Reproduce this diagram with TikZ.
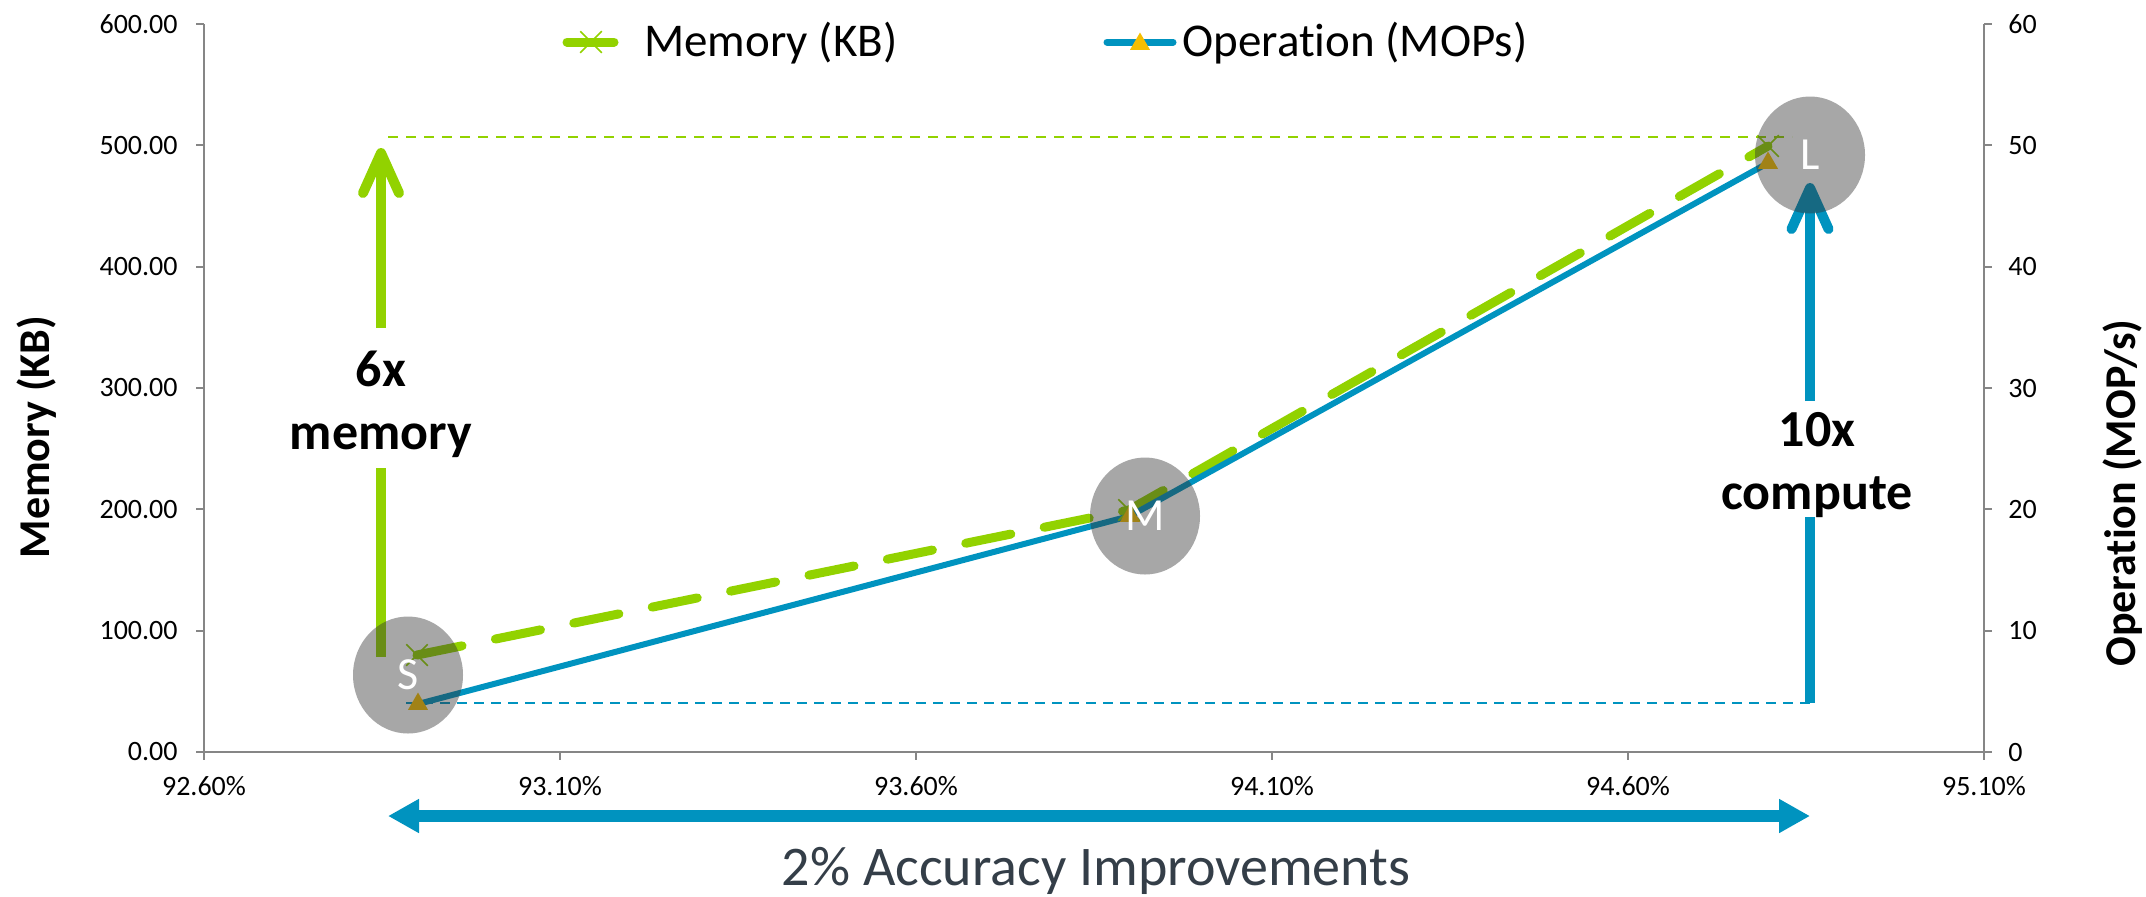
\documentclass[tikz,border=0pt]{standalone}
\usepackage{fontspec}
\setmainfont{Carlito}[Ligatures={NoCommon}]
\usetikzlibrary{arrows.meta,shapes.geometric,shapes.misc}
\definecolor{lime}{RGB}{146,210,0}
\definecolor{ocean}{RGB}{0,147,191}
\definecolor{axisgray}{RGB}{134,134,134}
\definecolor{gold}{RGB}{245,190,0}
\definecolor{slate}{RGB}{52,62,72}
\definecolor{bubble}{RGB}{51,51,51}
\begin{document}
\begin{tikzpicture}[x=0.5pt,y=-0.5pt,
  axis/.style={draw=axisgray, line width=1pt},
  ticklab/.style={font=\fontsize{14}{16}\selectfont, inner sep=0pt},
  axtitle/.style={font=\fontsize{22}{26}\selectfont\bfseries, rotate=90, inner sep=0pt},
  legtext/.style={font=\fontsize{23.5}{28}\selectfont, inner sep=0pt, anchor=base west},
  memline/.style={draw=lime, line width=4.5pt, dash pattern=on 23pt off 17pt, line cap=round},
  opline/.style={draw=ocean, line width=3pt},
  memmark/.style={cross out, draw=lime, line width=0.75pt, minimum size=10pt, inner sep=0pt},
  opmark/.style={regular polygon, regular polygon sides=3, fill=gold, minimum size=11.5pt, inner sep=0pt},
  bubblenode/.style={ellipse, fill=bubble, fill opacity=0.43, text opacity=1, text=white,
    minimum width=55pt, minimum height=58.5pt, inner sep=0pt, font=\fontsize{23}{27}\selectfont},
  biglab/.style={font=\fontsize{26}{31.5}\selectfont\bfseries, align=center, inner sep=0pt},
  greenguide/.style={draw=lime, line width=1.25pt, dash pattern=on 5pt off 4pt},
  blueguide/.style={draw=ocean, line width=1.25pt, dash pattern=on 5pt off 3.5pt},
  garrow/.style={draw=lime, line width=5pt},
  barrow/.style={draw=ocean, line width=5pt},
  spanarrow/.style={draw=ocean, line width=6pt, {Triangle[length=15.5pt,width=16pt]}-{Triangle[length=15.5pt,width=16pt]}}
]
\useasboundingbox (0,0) rectangle (2146,896);

% axes
\draw[axis] (204,24) -- (204,752) -- (1984,752) -- (1984,24);
\foreach \i/\lab in {0/0.00,1/100.00,2/200.00,3/300.00,4/400.00,5/500.00,6/600.00} {
  \pgfmathsetmacro\yy{752-121.3333*\i}
  \draw[axis] (196,\yy) -- (204,\yy);
  \node[ticklab, anchor=east] (yl\i) at (178,\yy) {\lab};
}
\foreach \i/\lab in {0/0,1/10,2/20,3/30,4/40,5/50,6/60} {
  \pgfmathsetmacro\yy{752-121.3333*\i}
  \draw[axis] (1984,\yy) -- (1992,\yy);
  \node[ticklab, anchor=west] (yr\i) at (2008,\yy) {\lab};
}
\foreach \i/\lab in {0/92.60\%,1/93.10\%,2/93.60\%,3/94.10\%,4/94.60\%,5/95.10\%} {
  \pgfmathsetmacro\xx{204+356*\i}
  \draw[axis] (\xx,752) -- (\xx,760);
  \node[ticklab] (xl\i) at (\xx,786) {\lab};
}
\node[axtitle] (ytl) at (37,437) {Memory (KB)};
\node[axtitle] (ytr) at (2123,493) {Operation (MOP/s)};

% legend
\coordinate (lg1a) at (567,42); \coordinate (lg1b) at (614,42);
\draw[draw=lime, line width=4.5pt, line cap=round] (lg1a) -- (lg1b);
\node[memmark] (lgm1) at (591,42) {};
\node[legtext] (lgt1) at (644,56) {Memory (KB)};
\coordinate (lg2a) at (1107,42); \coordinate (lg2b) at (1173,42);
\draw[draw=ocean, line width=3.5pt, line cap=round] (lg2a) -- (lg2b);
\node[opmark] (lgm2) at (1140,44) {};
\node[legtext] (lgt2) at (1182,56) {Operation (MOPs)};

% data points
\coordinate (mS) at (417,655); \coordinate (mM) at (1129,510); \coordinate (mL) at (1768,146);
\coordinate (oS) at (418,704); \coordinate (oM) at (1130,516); \coordinate (oL) at (1768,163);

% guide lines
\coordinate (gg1) at (388,137); \coordinate (gg2) at (1792,137);
\draw[greenguide] (gg1) -- (gg2);
\coordinate (bg1) at (406,703); \coordinate (bg2) at (1810,703);
\draw[blueguide] (bg1) -- (bg2);

% vertical arrows
\coordinate (gBot) at (381,657); \coordinate (gLow) at (381,468);
\coordinate (gHigh) at (381,328); \coordinate (gTip) at (381,148);
\draw[garrow] (gBot) -- (gLow);
\draw[garrow, -{Straight Barb[length=20pt,width=18pt,round]}] (gHigh) -- (gTip);
\node[biglab] (memlab) at (381,404) {6x\\memory};

\coordinate (bBot) at (1810,703); \coordinate (bLow) at (1810,517);
\coordinate (bHigh) at (1810,401); \coordinate (bTip) at (1810,183);
\draw[barrow] (bBot) -- (bLow);
\draw[barrow, -{Straight Barb[length=20.5pt,width=18.5pt,round]}] (bHigh) -- (bTip);
\node[biglab] (oplab) at (1817,465) {10x\\compute};

% horizontal span arrow
\coordinate (hL) at (388,816); \coordinate (hR) at (1810,816);
\draw[spanarrow] (hL) -- (hR);
\node[font=\fontsize{28}{33}\selectfont, text=slate, inner sep=0pt, anchor=base] (acc) at (1096,885) {2\% Accuracy Improvements};

% series
\draw[memline] (mS) -- (mM) -- (mL);
\draw[opline] (oS) -- (oM) -- (oL);
\foreach \p in {mS,mM,mL} { \node[memmark] (x\p) at (\p) {}; }
\foreach \p in {oS,oM,oL} { \node[opmark] (t\p) at (\p) {}; }

% bubbles
\node[bubblenode] (S) at (408,675) {S};
\node[bubblenode] (M) at (1145,516) {M};
\node[bubblenode] (L) at (1810,155) {L};
\end{tikzpicture}
\end{document}
